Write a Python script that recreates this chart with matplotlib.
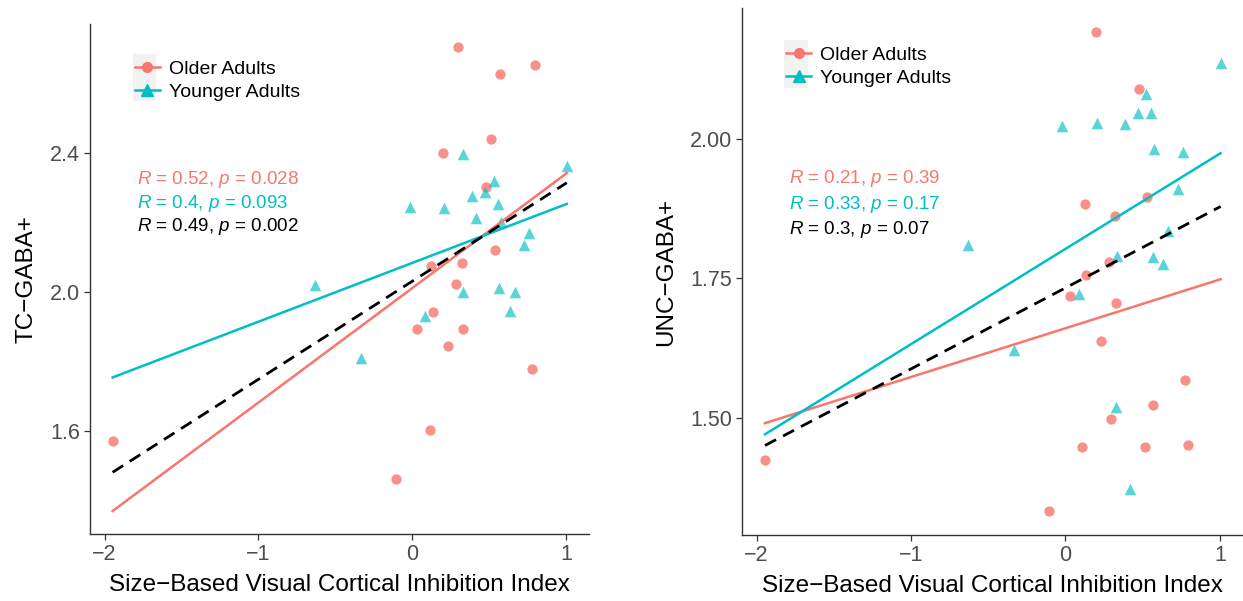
import numpy as np
import matplotlib
matplotlib.use("Agg")
import matplotlib.pyplot as plt
from matplotlib.patches import Rectangle

plt.rcParams['font.family'] = ['Liberation Sans', 'DejaVu Sans']
plt.rcParams['mathtext.fontset'] = 'custom'
plt.rcParams['mathtext.rm'] = 'Liberation Sans'
plt.rcParams['mathtext.it'] = 'Liberation Sans:italic'

RED = '#F8766D'
CYAN = '#00BFC4'

# TC-GABA+ panel
tc_old_x = [0.299, 0.799, 0.572, 0.515, 0.201, 0.479, 0.536, 0.325, 0.124,
            0.284, 0.134, 0.031, 0.330, 0.232, 0.778, 0.113, -1.948, -0.103]
tc_old_y = [2.704, 2.653, 2.625, 2.439, 2.400, 2.302, 2.121, 2.083, 2.074,
            2.024, 1.944, 1.893, 1.893, 1.844, 1.778, 1.604, 1.572, 1.464]
tc_young_x = [1.005, 0.330, 0.531, 0.387, 0.474, -0.015, 0.206, 0.557, 0.412, 0.577,
              0.763, 0.727, -0.629, 0.330, 0.567, 0.670, 0.634, 0.082, -0.335]
tc_young_y = [2.363, 2.397, 2.319, 2.275, 2.287, 2.245, 2.242, 2.252, 2.212, 2.202,
              2.171, 2.134, 2.019, 1.999, 2.011, 1.999, 1.946, 1.930, 1.812]

# UNC-GABA+ panel
unc_old_x = [0.197, 0.477, 0.528, 0.126, 0.321, 0.279, 0.131, 0.028, 0.326,
             0.231, 0.772, 0.567, 0.295, 0.110, 0.515, 0.797, -1.946, -0.105]
unc_old_y = [2.193, 2.090, 1.897, 1.883, 1.863, 1.779, 1.756, 1.719, 1.706,
             1.637, 1.567, 1.523, 1.497, 1.447, 1.447, 1.450, 1.423, 1.332]
unc_young_x = [1.005, 0.521, 0.472, 0.554, -0.021, 0.205, 0.387, 0.572, 0.762, 0.726,
               0.664, -0.628, 0.333, 0.567, 0.633, 0.085, -0.336, 0.328, 0.415]
unc_young_y = [2.137, 2.082, 2.047, 2.047, 2.024, 2.030, 2.028, 1.983, 1.977, 1.910,
               1.836, 1.810, 1.791, 1.788, 1.776, 1.722, 1.621, 1.519, 1.371]

tc_stats = ['0.52, p = 0.028', '0.4, p = 0.093', '0.49, p = 0.002']
unc_stats = ['0.21, p = 0.39', '0.33, p = 0.17', '0.3, p = 0.07']

tc_yticks = [1.6, 2.0, 2.4]
unc_yticks = [1.5, 1.75, 2.0]


def fit_line(ax, x, y, xr, color, ls='-'):
    # lm fit drawn over the full x range of the panel (fullrange)
    b, a = np.polyfit(x, y, 1)
    xs = np.array(xr)
    if ls == '--':
        ax.plot(xs, a + b * xs, color=color, lw=2.0, ls=ls, dashes=(4.5, 2.8), zorder=4)
    else:
        ax.plot(xs, a + b * xs, color=color, lw=1.8, zorder=4)


def panel(ax, ox, oy, yx, yy, stats, ylab, yticks, yfmt, ylim, text_y, leg_box):
    ax.scatter(ox, oy, s=55, marker='o', color=RED, alpha=0.8, lw=0, zorder=3)
    ax.scatter(yx, yy, s=70, marker='^', color=CYAN, alpha=0.65, lw=0, zorder=3)
    allx = ox + yx
    xr = [min(allx), max(allx)]
    fit_line(ax, ox, oy, xr, RED)
    fit_line(ax, yx, yy, xr, CYAN)
    fit_line(ax, allx, oy + yy, xr, 'black', ls='--')

    ax.set_xlim(-2.095, 1.15)
    ax.set_ylim(*ylim)
    ax.set_xticks([-2, -1, 0, 1])
    ax.set_yticks(yticks)
    ax.set_yticklabels([yfmt.format(v) for v in yticks])
    for s in ['top', 'right']:
        ax.spines[s].set_visible(False)
    for s in ['left', 'bottom']:
        ax.spines[s].set_color('#333333')
        ax.spines[s].set_linewidth(1.0)
    ax.tick_params(length=4, width=0.9, color='#333333', labelcolor='#4D4D4D',
                   labelsize=15.5, pad=3)
    ax.set_xlabel('Size\u2212Based Visual Cortical Inhibition Index', fontsize=17.5, labelpad=7)
    ax.set_ylabel(ylab, fontsize=17.5, labelpad=9)

    for txt, ty, c in zip(stats, text_y, [RED, CYAN, 'black']):
        ax.text(-1.79, ty, r'$R$ = ' + txt.replace('p =', r'$p$ ='), color=c,
                fontsize=13.5, va='center', ha='left')

    # legend with grey key background like ggplot
    x0, y0, x1, y1 = leg_box
    ax.add_patch(Rectangle((x0, y0), x1 - x0, y1 - y0, transform=ax.transAxes,
                           facecolor='#F2F2F2', edgecolor='none', zorder=1))
    h1 = plt.Line2D([], [], color=RED, marker='o', ms=7, lw=1.8)
    h2 = plt.Line2D([], [], color=CYAN, marker='^', ms=8, lw=1.8)
    ax.legend([h1, h2], ['Older Adults', 'Younger Adults'], loc='upper left',
              bbox_to_anchor=(x0 - 0.004, y1 - 0.004), frameon=False, fontsize=14,
              handlelength=1.3, handletextpad=0.45, labelspacing=0.3, borderpad=0.2,
              borderaxespad=0)


fig = plt.figure(figsize=(12.43, 6.01), dpi=100)
ax1 = fig.add_axes([90 / 1243, (601 - 534) / 601, 499 / 1243, 510 / 601])
ax2 = fig.add_axes([742 / 1243, (601 - 535) / 601, 501 / 1243, 527 / 601])

panel(ax1, tc_old_x, tc_old_y, tc_young_x, tc_young_y, tc_stats, 'TC\u2212GABA+',
      tc_yticks, '{:.1f}', (1.305, 2.77), [2.323, 2.253, 2.187],
      (0.086, 0.849, 0.132, 0.941))
panel(ax2, unc_old_x, unc_old_y, unc_young_x, unc_young_y, unc_stats, 'UNC\u2212GABA+',
      unc_yticks, '{:.2f}', (1.289, 2.236), [1.930, 1.883, 1.838],
      (0.084, 0.848, 0.132, 0.939))

fig.savefig('out.png', dpi=100)
